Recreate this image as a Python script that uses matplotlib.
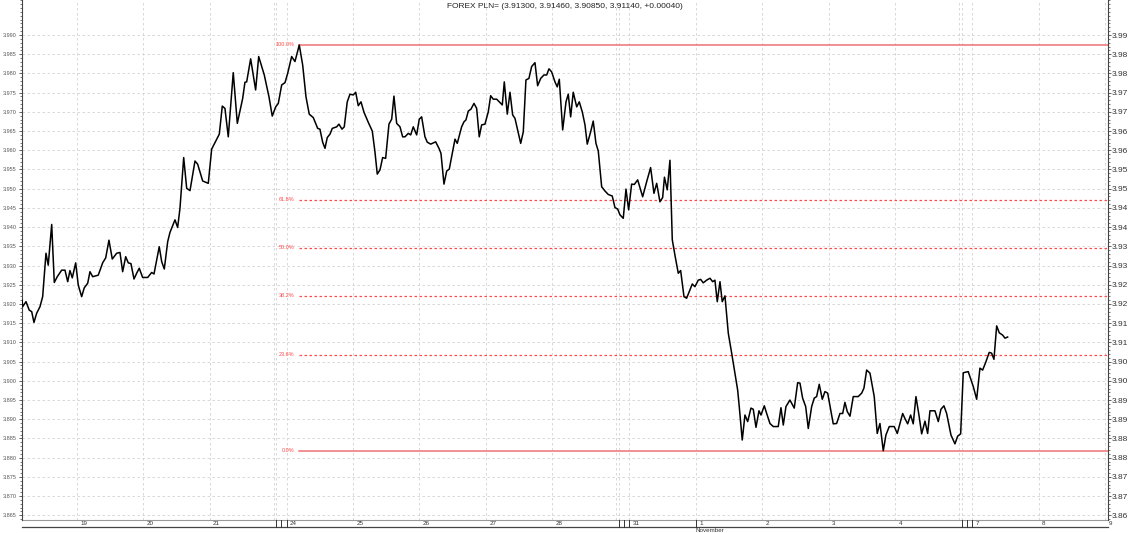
import math

import matplotlib
matplotlib.use("Agg")
import matplotlib.pyplot as plt
import numpy as np
from matplotlib.ticker import FixedLocator, FuncFormatter, MultipleLocator

plt.rcParams["font.family"] = ["Liberation Sans", "DejaVu Sans"]

TITLE = "FOREX PLN= (3.91300, 3.91460, 3.90850, 3.91140, +0.00040)"

# calendar Oct 19 .. Nov 9, weekends are squeezed on the time axis
day_labels = ["19", "20", "21", "22", "23", "24", "25", "26", "27", "28", "29",
              "30", "31", "1", "2", "3", "4", "5", "6", "7", "8", "9"]
weekend_days = {"22", "23", "29", "30", "5", "6"}
WEEKEND_WIDTH = 0.08

# time in trading days since Oct 19 00:00 (weekends squeezed), hourly-ish closes
t = [-0.823, -0.813, -0.763, -0.714, -0.677, -0.643, -0.602, -0.552, -0.512, -0.462,
     -0.428, -0.376, -0.337, -0.292, -0.226, -0.176, -0.135, -0.101, -0.066, -0.015,
     0.024, 0.075, 0.114, 0.166, 0.200, 0.241, 0.325, 0.391, 0.437, 0.486,
     0.536, 0.602, 0.652, 0.692, 0.738, 0.777, 0.817, 0.863, 0.903, 0.942,
     0.993, 1.069, 1.129, 1.164, 1.243, 1.280, 1.319, 1.370, 1.404, 1.480,
     1.520, 1.555, 1.611, 1.656, 1.706, 1.781, 1.821, 1.897, 1.981, 2.032,
     2.147, 2.192, 2.232, 2.282, 2.357, 2.418, 2.499, 2.533, 2.559, 2.619,
     2.694, 2.740, 2.824, 2.895, 2.944, 2.996, 3.035, 3.086, 3.136, 3.176,
     3.236, 3.286, 3.351, 3.402, 3.452, 3.501, 3.562, 3.628, 3.662, 3.703,
     3.738, 3.772, 3.813, 3.848, 3.914, 3.948, 3.994, 4.028, 4.073, 4.114,
     4.164, 4.200, 4.239, 4.280, 4.325, 4.389, 4.450, 4.490, 4.525, 4.566,
     4.606, 4.651, 4.701, 4.742, 4.776, 4.817, 4.867, 4.907, 4.942, 4.992,
     5.028, 5.067, 5.118, 5.157, 5.193, 5.243, 5.278, 5.329, 5.404, 5.454,
     5.484, 5.529, 5.570, 5.609, 5.695, 5.729, 5.795, 5.830, 5.860, 5.895,
     5.935, 5.981, 6.021, 6.060, 6.096, 6.146, 6.196, 6.232, 6.271, 6.322,
     6.361, 6.407, 6.437, 6.482, 6.523, 6.563, 6.598, 6.638, 6.684, 6.723,
     6.763, 6.808, 6.849, 6.899, 6.939, 6.985, 7.034, 7.075, 7.110, 7.150,
     7.200, 7.234, 7.265, 7.316, 7.366, 7.400, 7.436, 7.475, 7.527, 7.566,
     7.611, 7.652, 7.686, 7.737, 7.776, 7.817, 7.852, 7.903, 7.953, 8.002,
     8.062, 8.103, 8.144, 8.178, 8.228, 8.269, 8.309, 8.354, 8.394, 8.445,
     8.520, 8.580, 8.640, 8.690, 8.731, 8.780, 8.821, 8.848, 8.890, 8.931,
     8.966, 9.006, 9.056, 9.092, 9.142, 9.182, 9.267, 9.307, 9.357, 9.393,
     9.432, 9.483, 9.533, 9.574, 9.608, 9.643, 9.684, 9.718, 9.759, 9.809,
     9.860, 9.909, 9.950, 9.974, 10.019, 10.060, 10.101, 10.150, 10.185, 10.226,
     10.271, 10.301, 10.351, 10.387, 10.436, 10.486, 10.561, 10.602, 10.637, 10.677,
     10.737, 10.802, 10.853, 10.888, 10.928, 10.974, 11.013, 11.064, 11.103, 11.139,
     11.178, 11.224, 11.264, 11.305, 11.389, 11.440, 11.490, 11.531, 11.565, 11.600,
     11.641, 11.690, 11.765, 11.817, 11.851, 11.892, 11.942, 12.006, 12.051, 12.092,
     12.142, 12.182, 12.232, 12.307, 12.353, 12.393, 12.434, 12.468, 12.509, 12.554,
     12.593, 12.634, 12.679, 12.720, 12.770, 12.810, 12.845, 12.920, 12.970, 13.010,
     13.055, 13.096, 13.161, 13.221, 13.262, 13.307, 13.346, 13.421, 13.497, 13.548,
     13.597, 13.638, 13.688, 13.737, 13.773, 13.808, 13.849, 13.888, 13.939, 13.974,
     14.014]

price = [3.9210, 3.9193, 3.9206, 3.9184, 3.9180, 3.9152, 3.9176, 3.9193, 3.9219, 3.9332,
         3.9301, 3.9407, 3.9256, 3.9271, 3.9288, 3.9288, 3.9258, 3.9287, 3.9268, 3.9307,
         3.9249, 3.9219, 3.9242, 3.9254, 3.9284, 3.9271, 3.9275, 3.9307, 3.9320, 3.9366,
         3.9317, 3.9332, 3.9334, 3.9284, 3.9323, 3.9307, 3.9305, 3.9265, 3.9280, 3.9293,
         3.9269, 3.9269, 3.9282, 3.9278, 3.9349, 3.9310, 3.9291, 3.9362, 3.9386, 3.9419,
         3.9399, 3.9449, 3.9581, 3.9501, 3.9495, 3.9572, 3.9564, 3.9520, 3.9514, 3.9603,
         3.9642, 3.9715, 3.9709, 3.9635, 3.9802, 3.9670, 3.9735, 3.9777, 3.9778, 3.9838,
         3.9757, 3.9844, 3.9796, 3.9739, 3.9689, 3.9713, 3.9722, 3.9770, 3.9776, 3.9800,
         3.9844, 3.9831, 3.9874, 3.9822, 3.9739, 3.9694, 3.9685, 3.9657, 3.9655, 3.9621,
         3.9605, 3.9633, 3.9642, 3.9657, 3.9661, 3.9668, 3.9655, 3.9661, 3.9726, 3.9746,
         3.9744, 3.9751, 3.9716, 3.9726, 3.9699, 3.9673, 3.9650, 3.9596, 3.9538, 3.9549,
         3.9581, 3.9579, 3.9668, 3.9681, 3.9741, 3.9670, 3.9661, 3.9635, 3.9635, 3.9644,
         3.9640, 3.9661, 3.9640, 3.9681, 3.9687, 3.9635, 3.9621, 3.9616, 3.9622, 3.9605,
         3.9592, 3.9512, 3.9546, 3.9551, 3.9629, 3.9618, 3.9661, 3.9674, 3.9679, 3.9702,
         3.9707, 3.9722, 3.9709, 3.9635, 3.9666, 3.9668, 3.9700, 3.9742, 3.9733, 3.9733,
         3.9726, 3.9718, 3.9778, 3.9694, 3.9751, 3.9692, 3.9683, 3.9653, 3.9618, 3.9648,
         3.9783, 3.9787, 3.9818, 3.9828, 3.9768, 3.9787, 3.9796, 3.9796, 3.9812, 3.9804,
         3.9778, 3.9765, 3.9785, 3.9653, 3.9726, 3.9746, 3.9687, 3.9751, 3.9713, 3.9726,
         3.9700, 3.9666, 3.9616, 3.9648, 3.9676, 3.9618, 3.9598, 3.9505, 3.9494, 3.9485,
         3.9481, 3.9451, 3.9447, 3.9432, 3.9423, 3.9499, 3.9445, 3.9512, 3.9511, 3.9523,
         3.9479, 3.9518, 3.9555, 3.9488, 3.9514, 3.9466, 3.9477, 3.9530, 3.9497, 3.9574,
         3.9367, 3.9327, 3.9280, 3.9287, 3.9219, 3.9215, 3.9252, 3.9245, 3.9262, 3.9264,
         3.9255, 3.9262, 3.9267, 3.9258, 3.9262, 3.9206, 3.9258, 3.9206, 3.9221, 3.9124,
         3.9072, 3.9020, 3.8976, 3.8933, 3.8846, 3.8911, 3.8894, 3.8929, 3.8926, 3.8879,
         3.8922, 3.8911, 3.8935, 3.8915, 3.8889, 3.8881, 3.8881, 3.8930, 3.8885, 3.8933,
         3.8950, 3.8929, 3.8995, 3.8994, 3.8955, 3.8933, 3.8876, 3.8933, 3.8955, 3.8959,
         3.8991, 3.8952, 3.8972, 3.8968, 3.8888, 3.8889, 3.8915, 3.8915, 3.8944, 3.8920,
         3.8908, 3.8959, 3.8959, 3.8968, 3.8981, 3.9028, 3.9020, 3.8959, 3.8863, 3.8889,
         3.8818, 3.8859, 3.8881, 3.8881, 3.8863, 3.8889, 3.8915, 3.8902, 3.8888, 3.8911,
         3.8888, 3.8959, 3.8911, 3.8862, 3.8895, 3.8863, 3.8922, 3.8922, 3.8894, 3.8926,
         3.8935, 3.8915, 3.8859, 3.8836, 3.8856, 3.8862, 3.9021, 3.9024, 3.8985, 3.8952,
         3.9033, 3.9028, 3.9050, 3.9074, 3.9072, 3.9056, 3.9143, 3.9125, 3.9119, 3.9111,
         3.9114]

fib_ratios = [1.0, 0.618, 0.5, 0.382, 0.236, 0.0]
fib_labels = ["100.0%", "61.8%", "50.0%", "38.2%", "23.6%", "0.0%"]

assert len(t) == len(price)

GRID = dict(color="#d2d2d2", linestyle=(0, (3, 3)), linewidth=0.6)
FIB_RED = "#ff4a4a"

# day start positions on the squeezed axis
day_pos = []
pos = 0.0
for lab in day_labels:
    day_pos.append(pos)
    pos += WEEKEND_WIDTH if lab in weekend_days else 1.0

W, H = 1130, 533
fig = plt.figure(figsize=(W / 100, H / 100), dpi=100)
ax = fig.add_axes([22 / W, 13 / H, (1108 - 22) / W, 520 / H])
ax.set_xlim(-0.823, 15.525)
ax.set_ylim(3.86378, 3.99911)

# horizontal grid at the price ticks
yticks = np.round(np.arange(3.865, 3.9901, 0.005), 3)
ax.yaxis.set_major_locator(FixedLocator(yticks))
ax.yaxis.set_minor_locator(MultipleLocator(0.001))
ax.yaxis.set_major_formatter(FuncFormatter(lambda v, _: f"{v:.3f}"))
for y in yticks:
    ax.axhline(y, zorder=0, **GRID)

# vertical grid at day starts (Friday close, Saturday and Monday around weekends)
ax.set_xticks([])
for i, lab in enumerate(day_labels):
    x = day_pos[i]
    if lab in weekend_days:
        if day_labels[i - 1] not in weekend_days:
            ax.axvline(x - 0.035, zorder=0, **GRID)
            ax.axvline(x, zorder=0, **GRID)
        continue
    ax.axvline(x, zorder=0, **GRID)

ax.plot(t, price, color="black", linewidth=1.1, zorder=3)

# fibonacci retracement from the high to the low
hi_i = int(np.argmax(price))
lo = min(price)
hi = price[hi_i]
fib_x0 = t[hi_i]
for r, lab in zip(fib_ratios, fib_labels):
    level = lo + r * (hi - lo)
    if r in (0.0, 1.0):
        ax.plot([fib_x0, ax.get_xlim()[1]], [level, level], color="#f07272",
                linewidth=1.1, zorder=2)
    else:
        ax.plot([fib_x0, ax.get_xlim()[1]], [level, level], color=FIB_RED,
                linewidth=0.9, linestyle=(0, (2, 2)), zorder=2)
    ax.text(fib_x0 - 0.07, level, lab, ha="right", va="center", fontsize=4,
            color=FIB_RED)

# left axis
for side in ("top", "bottom"):
    ax.spines[side].set_visible(False)
ax.spines["left"].set_color("#444444")
ax.spines["right"].set_visible(False)
ax.tick_params(axis="y", which="major", length=2.5, width=0.6, pad=1.5,
               labelsize=4, labelcolor="#555555", color="#444444")
ax.tick_params(axis="y", which="minor", length=1.5, width=0.5, color="#444444")

# right axis, labels cut to two decimals
ax2 = ax.twinx()
ax2.set_ylim(ax.get_ylim())
ax2.yaxis.set_major_locator(FixedLocator(yticks))
ax2.yaxis.set_minor_locator(MultipleLocator(0.001))
ax2.yaxis.set_major_formatter(
    FuncFormatter(lambda v, _: f"{math.floor(v * 100 + 1e-6) / 100:.2f}"))
for side in ("top", "bottom", "left"):
    ax2.spines[side].set_visible(False)
ax2.spines["right"].set_color("#444444")
ax2.tick_params(axis="y", which="major", length=2.5, width=0.6, pad=0.5,
                labelsize=6, labelcolor="#333333", color="#444444")
ax2.tick_params(axis="y", which="minor", length=1.5, width=0.5, color="#444444")

# date band under the plot
xt = ax.get_xaxis_transform()
band_top, band_bot = 0.0, -7 / 520
ax.plot([0, 1], [band_top, band_top], transform=ax.transAxes, color="#999999",
        linewidth=0.8, clip_on=False)
ax.plot([0, 1], [band_bot, band_bot], transform=ax.transAxes, color="#444444",
        linewidth=0.9, clip_on=False)
for i, lab in enumerate(day_labels):
    x = day_pos[i]
    after_weekend = i > 0 and day_labels[i - 1] in weekend_days
    if lab in weekend_days or after_weekend or lab == "1":
        ax.plot([x, x], [band_bot, band_top], transform=xt, color="#333333",
                linewidth=0.7, clip_on=False)
    if lab in weekend_days:
        continue
    ax.text(x + 0.05, (band_top + band_bot) / 2, lab, transform=xt, ha="left",
            va="center", fontsize=4.5, color="#333333")
    if lab == "1":
        ax.text(x, band_bot - 4 / 520, "November", transform=xt, ha="left",
                va="center", fontsize=4.5, color="#333333")

fig.text(0.5, 1 - 6 / H, TITLE, ha="center", va="center", fontsize=6,
         color="#222222")

fig.savefig("out.png", dpi=100)
plt.close(fig)
